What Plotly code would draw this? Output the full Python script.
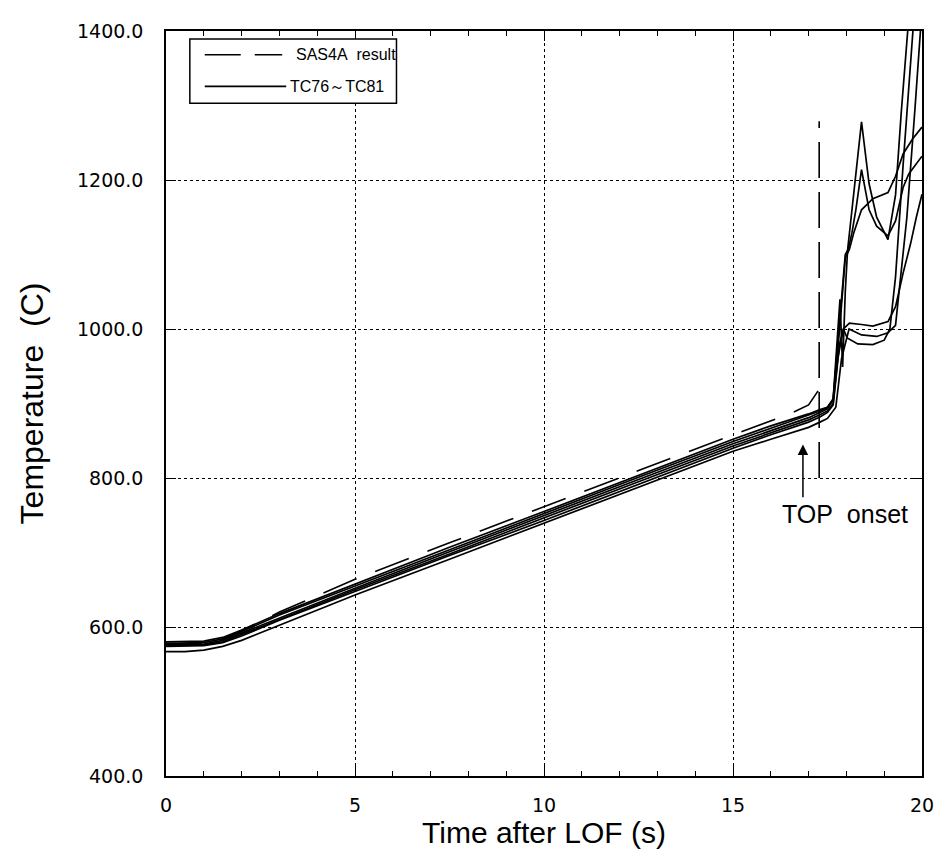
import plotly.graph_objects as go

# ---------------- data ----------------
# SAS4A calculation (dashed)
sas_t = [0, 1.0, 1.5, 2.0, 3.0, 5.0, 7.5, 10.0, 12.5, 15.0, 16.5, 17.0, 17.25]
sas_T = [577, 578, 584, 595, 620, 664, 713, 762, 810, 858, 886, 898, 917]
# SAS4A TOP onset (vertical dashed segment)
sas_top_t = [17.28, 17.28]
sas_top_T = [800, 1279]

# Measured thermocouples TC76 ~ TC81 (solid)
pre_t = [0, 0.5, 1.0, 1.5, 2.0, 3.0, 5.0, 7.5, 10.0, 12.5, 15.0, 16.0, 17.0, 17.3]

tc76_t = pre_t + [17.5, 17.65, 17.78, 17.83, 17.9, 17.97, 18.03, 18.15, 18.4, 18.6, 18.8, 19.1, 19.3, 19.45, 19.63, 19.7]
tc76_T = [580, 580, 581, 586, 596, 618, 658, 707, 755, 804, 852, 870, 886, 892,
          895, 906, 1000, 1040, 949, 1050, 1105, 1160, 1278, 1195, 1150, 1120, 1180, 1290, 1400, 1450]

tc77_t = pre_t + [17.5, 17.65, 17.82, 17.97, 18.05, 18.15, 18.25, 18.4, 18.6, 18.8, 19.1, 19.3, 19.5, 19.65, 20.0]
tc77_T = [578, 578, 579, 584, 594, 616, 655, 704, 752, 801, 849, 867, 884, 890,
          895, 906, 1010, 1100, 1107, 1130, 1160, 1214, 1160, 1138, 1125, 1145, 1190, 1208, 1232]

tc78_t = pre_t + [17.5, 17.65, 17.82, 17.97, 18.08, 18.2, 18.4, 18.7, 19.1, 19.3, 19.5, 19.75, 20.0]
tc78_T = [576, 576, 577, 582, 592, 613, 652, 701, 750, 798, 846, 864, 881, 888,
          893, 905, 1000, 1095, 1107, 1130, 1160, 1175, 1183, 1205, 1235, 1255, 1271]

tc79_t = pre_t + [17.5, 17.65, 17.77, 17.92, 18.08, 18.4, 18.7, 19.1, 19.3, 19.5, 19.7, 19.85, 20.0]
tc79_T = [575, 575, 576, 580, 590, 611, 650, 698, 747, 795, 843, 861, 878, 885,
          890, 900, 960, 1000, 1008, 1006, 1004, 1010, 1030, 1075, 1115, 1150, 1181]

tc80_t = pre_t + [17.5, 17.65, 17.82, 17.92, 18.02, 18.3, 18.7, 19.0, 19.15, 19.3, 19.5, 19.76, 19.85]
tc80_T = [574, 574, 575, 579, 588, 609, 648, 696, 743, 792, 840, 858, 875, 882,
          888, 898, 980, 1000, 988, 980, 979, 985, 1000, 1070, 1220, 1400, 1460]

tc81_t = pre_t + [17.5, 17.72, 17.87, 18.07, 18.4, 18.8, 19.1, 19.3, 19.6, 19.82, 19.95, 20.0]
tc81_T = [567, 567, 569, 574, 582, 602, 643, 691, 739, 788, 836, 852, 868, 875,
          880, 895, 960, 1000, 992, 990, 995, 1005, 1150, 1300, 1400, 1430]

tc_series = [(tc76_t, tc76_T), (tc77_t, tc77_T), (tc78_t, tc78_T),
             (tc79_t, tc79_T), (tc80_t, tc80_T), (tc81_t, tc81_T)]

x_ticks = [0, 5, 10, 15, 20]
y_ticks = [400, 600, 800, 1000, 1200, 1400]
y_tick_labels = ["400.0", "600.0", "800.0", "1000.0", "1200.0", "1400.0"]

# ---------------- figure ----------------
fig = go.Figure()

for t, T in tc_series:
    fig.add_trace(go.Scatter(x=t, y=T, mode="lines",
                             line=dict(color="black", width=1.7),
                             showlegend=False, hoverinfo="skip"))

fig.add_trace(go.Scatter(x=sas_t, y=sas_T, mode="lines",
                         line=dict(color="black", width=1.6, dash="36px,20px"),
                         showlegend=False))
fig.add_trace(go.Scatter(x=sas_top_t, y=sas_top_T, mode="lines",
                         line=dict(color="black", width=1.6, dash="36px,14px"),
                         showlegend=False))

font_main = "DejaVu Sans"
font_title = "Liberation Sans"

# page body has an 8px default margin, so the figure is drawn 8px smaller
fig.update_layout(
    width=938, height=851,
    margin=dict(l=158, r=19, t=15, b=83),
    paper_bgcolor="white", plot_bgcolor="white",
    showlegend=False,
    font=dict(family=font_main, color="black", size=18),
)

fig.update_xaxes(
    range=[0, 20], tickvals=x_ticks, ticktext=[str(v) for v in x_ticks],
    showline=True, linecolor="black", linewidth=1.5, mirror="allticks",
    ticks="inside", ticklen=10, tickcolor="black", tickwidth=1.2,
    minor=dict(dtick=1, ticks="inside", ticklen=5, tickcolor="black", showgrid=False),
    showgrid=True, gridcolor="black", griddash="dot", gridwidth=1,
    zeroline=False,
    tickfont=dict(family=font_main, size=19),
    ticklabelstandoff=11,
    title=dict(text="Time after LOF (s)",
               font=dict(family=font_title, size=30),
               standoff=0),
)
fig.update_yaxes(
    range=[400, 1400], tickvals=y_ticks, ticktext=y_tick_labels,
    showline=True, linecolor="black", linewidth=1.5, mirror="allticks",
    ticks="inside", ticklen=10, tickcolor="black", tickwidth=1.2,
    showgrid=True, gridcolor="black", griddash="dot", gridwidth=1,
    zeroline=False,
    tickfont=dict(family=font_main, size=19),
    ticklabelstandoff=17,
    title=dict(text="Temperature  (C)",
               font=dict(family=font_title, size=32),
               standoff=24),
)

# ----- hand-drawn legend box (as in the original figure) -----
def px_x(p):
    return (p - 166) / (927 - 166)

def px_y(p):
    return 1 - (p - 23) / (776 - 23)

fig.add_shape(type="rect", xref="paper", yref="paper",
              x0=px_x(190), x1=px_x(398), y0=px_y(96), y1=px_y(31),
              line=dict(color="black", width=1.5), fillcolor="white", layer="above")
fig.add_shape(type="line", xref="paper", yref="paper",
              x0=px_x(205), x1=px_x(283), y0=px_y(47), y1=px_y(47),
              line=dict(color="black", width=1.6, dash="36px,14px"), layer="above")
fig.add_shape(type="line", xref="paper", yref="paper",
              x0=px_x(205), x1=px_x(287), y0=px_y(79), y1=px_y(79),
              line=dict(color="black", width=1.6), layer="above")
fig.add_annotation(xref="paper", yref="paper", x=px_x(295), y=px_y(47),
                   text="SAS4A&nbsp;&nbsp;result", showarrow=False,
                   xanchor="left", yanchor="middle",
                   font=dict(family=font_title, size=16))
fig.add_annotation(xref="paper", yref="paper", x=px_x(289), y=px_y(79),
                   text="TC76～TC81", showarrow=False,
                   xanchor="left", yanchor="middle",
                   font=dict(family=font_title, size=16))

# ----- TOP onset arrow and label -----
fig.add_annotation(x=16.85, y=845, ax=16.85, ay=772, xref="x", yref="y",
                   axref="x", ayref="y", text="", showarrow=True,
                   arrowhead=2, arrowsize=1.4, arrowwidth=1.5, arrowcolor="black")
fig.add_annotation(x=17.95, y=752, xref="x", yref="y", text="TOP&nbsp; onset",
                   showarrow=False, font=dict(family=font_title, size=25))

fig.write_html("out.html")
